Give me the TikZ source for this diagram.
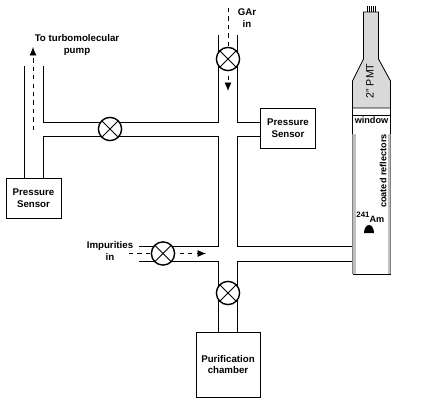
\documentclass[tikz,border=0pt]{standalone}
\usepackage{fontspec}
\setmainfont{Liberation Sans}
\usetikzlibrary{arrows.meta}
\definecolor{pmtgray}{gray}{0.85}
\definecolor{stripgray}{gray}{0.75}
\tikzset{
    textlabel/.style={font=\fontsize{6.9}{8.5}\selectfont\bfseries, align=center, inner sep=0pt},
    detlabel/.style={font=\fontsize{6.5}{8}\selectfont\bfseries, inner sep=0pt},
    pipe/.style={line width=0.6pt},
    sensorbox/.style={draw, line width=0.6pt, align=center, font=\fontsize{6.9}{8.5}\selectfont\bfseries},
    valve/.style={circle, draw, line width=1pt, fill=white, minimum size=0.58cm, inner sep=0pt, path picture={
        \draw[line width=0.6pt] (path picture bounding box.north west) -- (path picture bounding box.south east);
        \draw[line width=0.6pt] (path picture bounding box.north east) -- (path picture bounding box.south west);}},
    flow/.style={line width=0.6pt, dashed, -{Latex[length=6pt,width=5pt]}}
}
\begin{document}
\begin{tikzpicture}[x=0.025cm, y=-0.025cm]
    \useasboundingbox (0, 0) rectangle (432, 402);
    % boxes
    \node[sensorbox, minimum width=1.375cm, minimum height=1cm] (leftsensor) at (33.5, 198) {Pressure\\Sensor};
    \node[sensorbox, minimum width=1.375cm, minimum height=1cm] (rightsensor) at (288, 128) {Pressure\\Sensor};
    \node[sensorbox, minimum width=1.6cm, minimum height=1.625cm] (chamber) at (228, 364.5) {Purification\\chamber};
    % pipes
    \draw[pipe] (24.5, 66) -- (24.5, 178);
    \draw[pipe] (43, 66) -- (43, 122) -- (218.5, 122) -- (218.5, 35);
    \draw[pipe] (43, 178) -- (43, 136) -- (218.5, 136) -- (218.5, 246) -- (139, 246);
    \draw[pipe] (237.5, 35) -- (237.5, 122) -- (261, 122);
    \draw[pipe] (261, 136) -- (237.5, 136) -- (237.5, 246) -- (355, 246);
    \draw[pipe] (139, 261) -- (218.5, 261) -- (218.5, 332);
    \draw[pipe] (355, 261) -- (237.5, 261) -- (237.5, 332);
    % flow arrows
    \coordinate (pumpstart) at (33, 130);
    \coordinate (pumpend) at (33, 47);
    \coordinate (garstart) at (228, 8);
    \coordinate (garend) at (228, 91);
    \coordinate (impstart) at (129, 253.5);
    \coordinate (impend) at (206, 253.5);
    \draw[flow] (pumpstart) -- (pumpend);
    \draw[flow] (garstart) -- (garend);
    \draw[flow] (impstart) -- (impend);
    % valves
    \node[valve] (pumpvalve) at (110, 129) {};
    \node[valve] (garvalve) at (228, 59) {};
    \node[valve] (impvalve) at (163, 253.5) {};
    \node[valve] (chambervalve) at (228, 293) {};
    % detector
    \fill[stripgray] (352.5, 134) rectangle (355.5, 274);
    \fill[stripgray] (387.5, 134) rectangle (390.5, 274);
    \draw[pipe, fill=pmtgray] (352.5, 108) -- (352.5, 81) -- (363.5, 59) -- (363.5, 12)
        -- (378.5, 12) -- (378.5, 59) -- (390.5, 81) -- (390.5, 108) -- cycle;
    \draw[pipe] (352.5, 108) -- (352.5, 134);
    \draw[pipe] (390.5, 108) -- (390.5, 134);
    \draw[pipe] (352.5, 115) -- (390.5, 115);
    \draw[line width=0.3pt, gray] (352.5, 134) -- (352.5, 274);
    \draw[line width=0.3pt, gray] (390.5, 134) -- (390.5, 274);
    \draw[pipe] (352.5, 274) -- (390.5, 274);
    \foreach \x in {367, 369, 371, 373, 375}
        \draw[line width=0.4pt] (\x, 6) -- (\x, 12);
    \fill (364, 233) arc[start angle=180, end angle=360, x radius=5, y radius=8] -- cycle;
    % labels
    \node[textlabel] (pumplabel) at (77, 45) {To turbomolecular\\pump};
    \node[textlabel] (garlabel) at (247, 18) {GAr\\in};
    \node[textlabel] (implabel) at (110, 251) {Impurities\\in};
    \node[detlabel] (windowlabel) at (371.5, 120.5) {window};
    \node[detlabel, rotate=90] (reflectorlabel) at (383, 171) {coated reflectors};
    \node[rotate=90, font=\fontsize{7.6}{9}\selectfont, inner sep=0pt] (pmtlabel) at (370, 81) {2'' PMT};
    \node[detlabel, font=\fontsize{5.6}{7}\selectfont\bfseries] (massnumber) at (363, 215) {241};
    \node[detlabel] (amlabel) at (377, 219) {Am};
\end{tikzpicture}
\end{document}
